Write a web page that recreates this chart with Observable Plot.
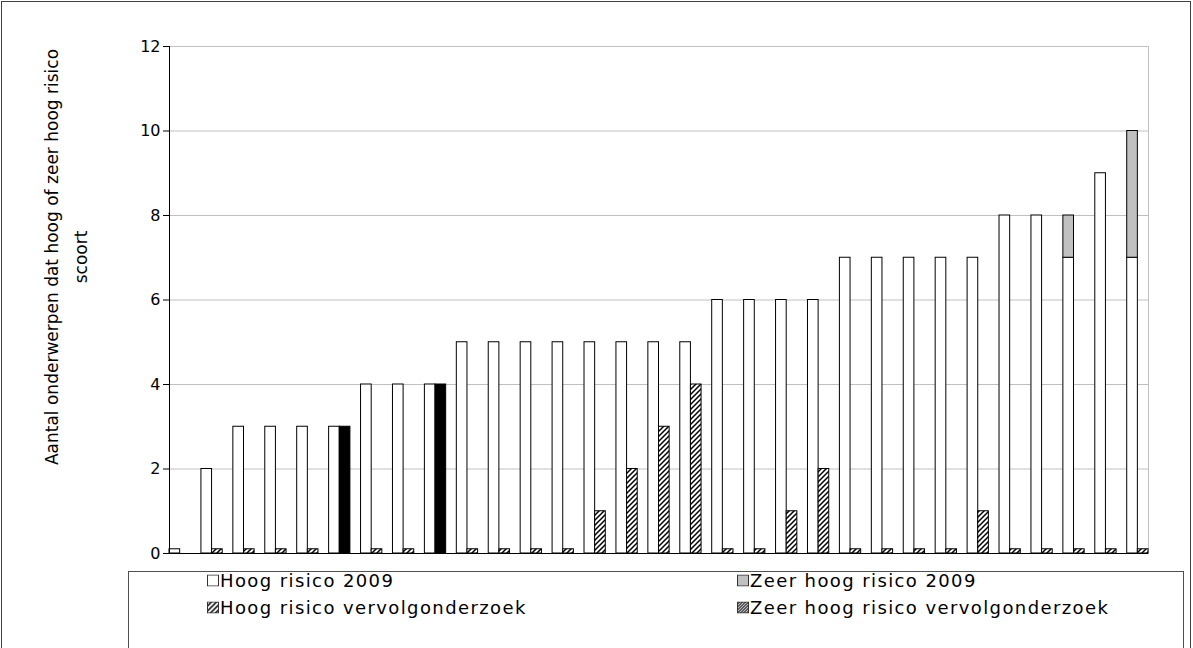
<!DOCTYPE html>
<html>
<head>
<meta charset="utf-8">
<script src="https://cdn.jsdelivr.net/npm/d3@7"></script>
<script src="https://cdn.jsdelivr.net/npm/@observablehq/plot@0.6"></script>
<style>
  body { margin: 0; background: #fff; font-family: "DejaVu Sans", Verdana, sans-serif; }
  #wrap { position: relative; width: 1193px; height: 648px; overflow: hidden; background: #fff; }
  #outer { position: absolute; left: 1px; top: 1px; width: 1190px; height: 700px; border: 1px solid #404040; box-sizing: border-box; pointer-events: none; }
  #chart { position: absolute; left: 0; top: 0; }
  #legend { position: absolute; left: 128px; top: 571px; width: 1056px; height: 100px; border: 1px solid #505050; box-sizing: border-box; background: #fff; }
  .item { position: absolute; display: flex; align-items: center; white-space: nowrap; font-size: 18px; letter-spacing: 1.4px; color: #000; transform: translateY(-50%); }
  .item svg { margin-right: 1px; }
</style>
</head>
<body>
<svg width="0" height="0" style="position:absolute">
  <defs>
    <pattern id="hatch" patternUnits="userSpaceOnUse" width="5" height="5">
      <rect width="5" height="5" fill="#fff"/>
      <path d="M-1,1 l2,-2 M0,5 l5,-5 M4,6 l2,-2" stroke="#000" stroke-width="1.5"/>
    </pattern>
    <pattern id="dense" patternUnits="userSpaceOnUse" width="3" height="3">
      <rect width="3" height="3" fill="#bbb"/>
      <path d="M-1,1 l2,-2 M0,3 l3,-3 M2,4 l2,-2" stroke="#000" stroke-width="1"/>
    </pattern>
  </defs>
</svg>
<div id="wrap">
  <div id="chart"></div>
  <div id="outer"></div>
  <div id="legend"></div>
</div>
<script>
// ---- data ----
const categories = ["1","2","3","4","5","6","7","8","9","10","11","12","13","14","15","16",
                    "17","18","19","20","21","22","23","24","25","26","27","28","29","30","31"];
const hoog2009        = [0.1, 2, 3, 3, 3, 3, 4, 4, 4, 5, 5, 5, 5, 5, 5, 5, 5, 6, 6, 6, 6, 7, 7, 7, 7, 7, 8, 8, 7, 9, 7];
const zeerHoog2009    = [0, 0, 0, 0, 0, 0, 0, 0, 0, 0, 0, 0, 0, 0, 0, 0, 0, 0, 0, 0, 0, 0, 0, 0, 0, 0, 0, 0, 1, 0, 3];
const hoogVervolg     = [null, 0.1, 0.1, 0.1, 0.1, 0, 0.1, 0.1, 0, 0.1, 0.1, 0.1, 0.1, 1, 2, 3, 4, 0.1, 0.1, 1, 2, 0.1, 0.1, 0.1, 0.1, 1, 0.1, 0.1, 0.1, 0.1, 0.1];
const zeerHoogVervolg = [0, 0, 0, 0, 0, 3, 0, 0, 4, 0, 0, 0, 0, 0, 0, 0, 0, 0, 0, 0, 0, 0, 0, 0, 0, 0, 0, 0, 0, 0, 0];
const yTicks = [0, 2, 4, 6, 8, 10, 12];
const yTitle = "Aantal onderwerpen dat hoog of zeer hoog risico\nscoort";
const legendLabels = ["Hoog risico 2009", "Zeer hoog risico 2009", "Hoog risico vervolgonderzoek", "Zeer hoog risico vervolgonderzoek"];
const legendFills  = ["#fff", "#c0c0c0", "url(#hatch)", "url(#dense)"];

// ---- layout ----
const W = 1193, H = 565;
const mL = 169, mR = 45, mT = 46, mB = 12;
const padInner = 1 / 3;
const step = (W - mL - mR) / (categories.length - padInner);
const half = step * (1 - padInner) / 2;

const idx = d3.range(categories.length);
const X = i => categories[i];
const hasV = idx.filter(i => hoogVervolg[i] != null);

const chart = Plot.plot({
  width: W, height: H,
  marginLeft: mL, marginRight: mR, marginTop: mT, marginBottom: mB,
  style: { fontFamily: "DejaVu Sans, Verdana, sans-serif", fontSize: "16px", color: "#000", background: "#fff" },
  x: { type: "band", domain: categories, paddingInner: padInner, paddingOuter: 0, round: false, align: 0.5, axis: null },
  y: { domain: [0, 12], axis: null },
  marks: [
    Plot.gridY(yTicks, { stroke: "#c0c0c0", strokeOpacity: 1 }),
    Plot.frame({ anchor: "right", stroke: "#c0c0c0", strokeOpacity: 1 }),
    // 2009 column (left half of each group)
    Plot.barY(idx, { x: X, y1: 0, y2: i => hoog2009[i], fill: "#fff", stroke: "#000", strokeWidth: 1, insetRight: half }),
    Plot.barY(idx.filter(i => zeerHoog2009[i] > 0), { x: X, y1: i => hoog2009[i], y2: i => hoog2009[i] + zeerHoog2009[i], fill: "#c0c0c0", stroke: "#000", strokeWidth: 1, insetRight: half }),
    // vervolgonderzoek column (right half)
    Plot.barY(hasV.filter(i => hoogVervolg[i] > 0), { x: X, y1: 0, y2: i => hoogVervolg[i], fill: "url(#hatch)", stroke: "#000", strokeWidth: 1, insetLeft: half }),
    Plot.barY(hasV.filter(i => zeerHoogVervolg[i] > 0), { x: X, y1: i => hoogVervolg[i], y2: i => hoogVervolg[i] + zeerHoogVervolg[i], fill: "#000", stroke: "#000", strokeWidth: 1, insetLeft: half }),
    Plot.ruleY([0], { stroke: "#000" }),
    Plot.frame({ anchor: "left", stroke: "#000" }),
    Plot.axisY(yTicks, { tickSize: 6, tickPadding: 3, fontSize: 16, label: null, stroke: "#000", fill: "#000" }),
    Plot.text([yTitle], { frameAnchor: "left", text: d => d, rotate: -90, dx: -106, dy: -43, textAnchor: "middle", lineAnchor: "middle", lineHeight: 1.65, fontSize: 17, fill: "#000" })
  ]
});
document.getElementById("chart").appendChild(chart);

// ---- legend ----
const legend = document.getElementById("legend");
const pos = [[78, 8], [608, 8], [78, 35], [608, 35]];
legendLabels.forEach((lab, k) => {
  const it = document.createElement("div");
  it.className = "item";
  it.style.left = pos[k][0] + "px";
  it.style.top = pos[k][1] + "px";
  it.innerHTML = `<svg width="12" height="12"><rect x="0.5" y="0.5" width="11" height="11" fill="${legendFills[k]}" stroke="#333"/></svg><span>${lab}</span>`;
  legend.appendChild(it);
});
</script>
</body>
</html>
